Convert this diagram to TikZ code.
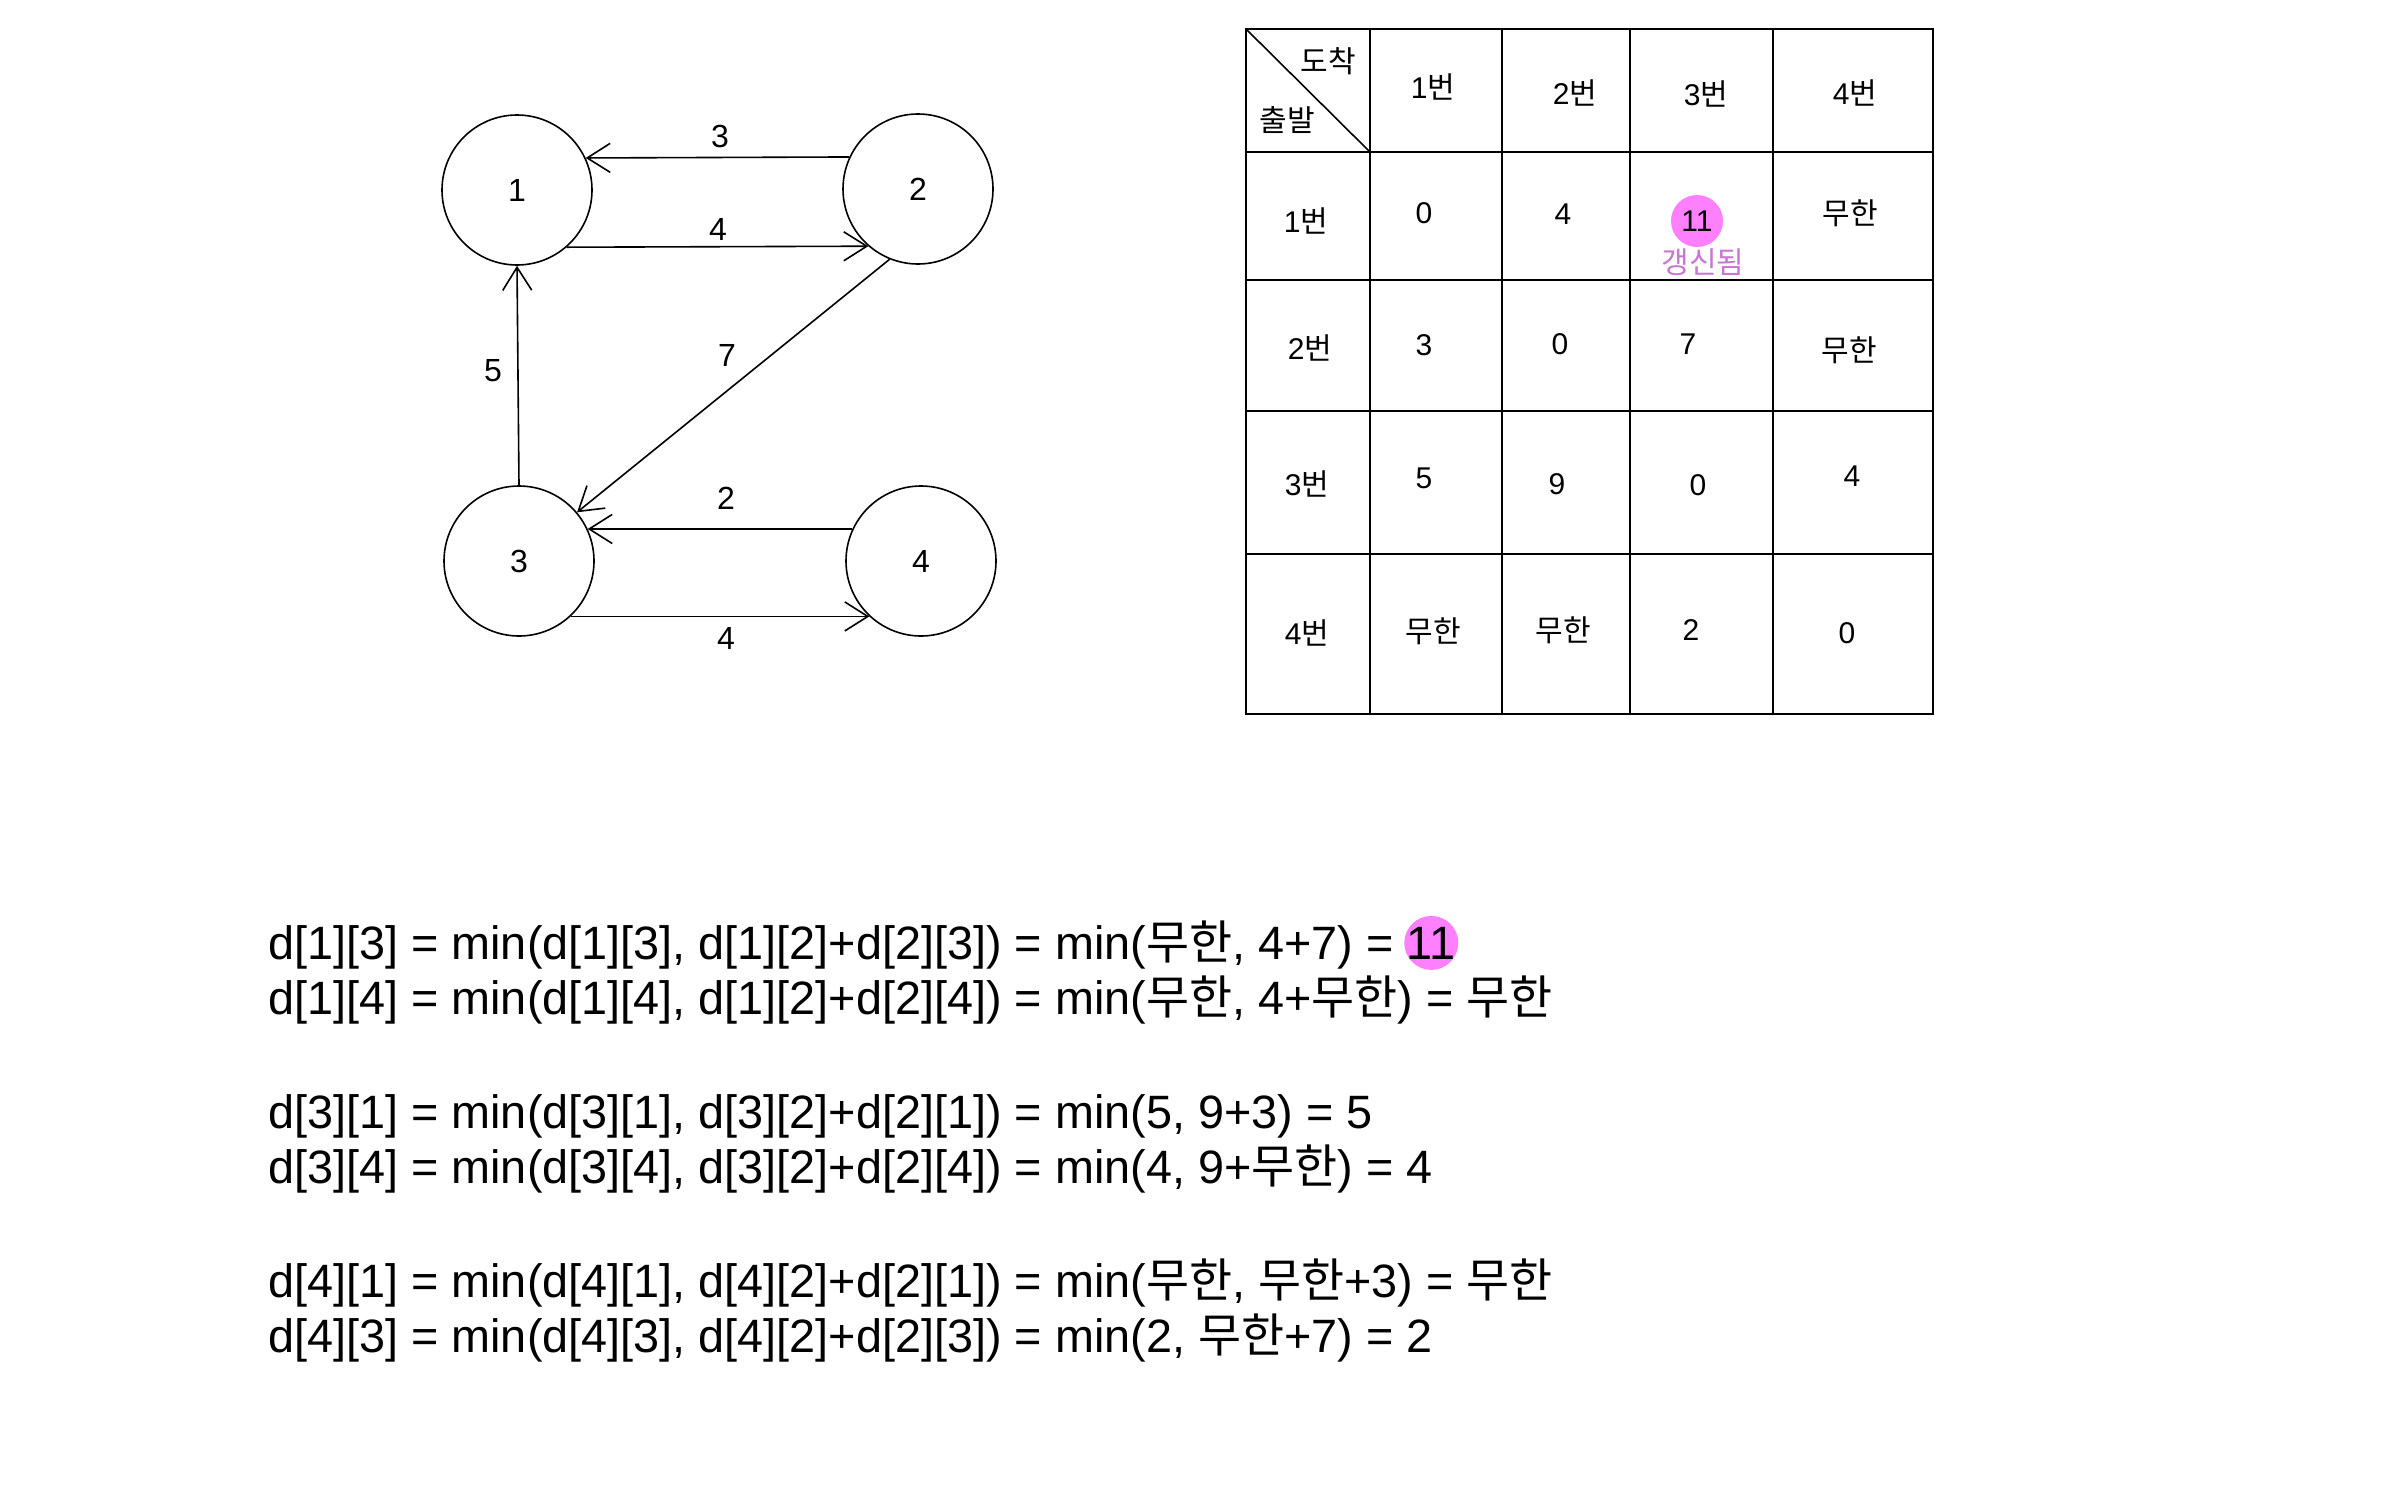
\documentclass[tikz,border=0pt]{standalone}
\usepackage{fontspec}
\setmainfont{Liberation Sans}
\newfontfamily\kr{Noto Sans CJK KR}
\usetikzlibrary{arrows.meta,backgrounds}
\newcommand\K[1]{{\kr #1}}
\definecolor{hl}{RGB}{255,128,255}
\definecolor{upd}{RGB}{200,118,212}
\begin{document}
\begin{tikzpicture}[x=1pt,y=-1pt,
  vtx/.style={circle, draw, line width=1.6pt, minimum size=150pt, inner sep=0pt, font=\fontsize{32}{38}\selectfont},
  edge/.style={line width=1.6pt, -{Straight Barb[length=23pt,width=29pt,line width=1.6pt]}},
  elab/.style={font=\fontsize{32}{38}\selectfont, inner sep=0pt},
  tline/.style={line width=2pt},
  cell/.style={font=\fontsize{30}{36}\selectfont, inner sep=0pt},
  eq/.style={font=\fontsize{46.8}{56}\selectfont, inner sep=0pt, anchor=base west}]
\useasboundingbox (0,0) rectangle (2386,1491);

% graph
\node[vtx] (c1) at (517,190) {1};
\node[vtx] (c2) at (918,189) {2};
\node[vtx] (c3) at (519,561) {3};
\node[vtx] (c4) at (921,561) {4};
\draw[edge] (c2.155) -- (c1.25);
\draw[edge] (c1.-49) -- (c2.-131);
\draw[edge] (c3.north) -- (c1.south);
\draw[edge] (c2.248) -- (c3.40);
\draw[edge] (c4.155) -- (c3.25);
\draw[edge] (c3.-47) -- (c4.-133);
\node[elab] (l21) at (720,136) {3};
\node[elab] (l12) at (718,229) {4};
\node[elab] (l31) at (493,371) {5};
\node[elab] (l23) at (727,355) {7};
\node[elab] (l43) at (726,498) {2};
\node[elab] (l34) at (726,638) {4};

% table
\draw[tline] (1246,29) rectangle (1933,714);
\foreach \x in {1370,1502,1630,1773} \draw[tline] (\x,29) -- (\x,714);
\foreach \y in {152,280,411,554} \draw[tline] (1246,\y) -- (1933,\y);
\draw[line width=1.6pt] (1246,29) -- (1370,152);
\node[cell] (hd) at (1328,61) {\K{도착}};
\node[cell] (hs) at (1287,120) {\K{출발}};
\node[cell] (h1) at (1433,87) {1\K{번}};
\node[cell] (h2) at (1575,93) {2\K{번}};
\node[cell] (h3) at (1706,94) {3\K{번}};
\node[cell] (h4) at (1855,93) {4\K{번}};
\node[cell] (r1) at (1306,221) {1\K{번}};
\node[cell] (r2) at (1310,348) {2\K{번}};
\node[cell] (r3) at (1307,484) {3\K{번}};
\node[cell] (r4) at (1307,633) {4\K{번}};
\node[cell] (t11) at (1424,213) {0};
\node[cell] (t12) at (1563,214) {4};
\node[cell, circle, fill=hl, minimum size=52pt] (t13) at (1697,221) {11};
\node[cell, text=upd] (upd) at (1703,262) {\K{갱신됨}};
\node[cell] (t14) at (1850,213) {\K{무한}};
\node[cell] (t21) at (1424,345) {3};
\node[cell] (t22) at (1560,344) {0};
\node[cell] (t23) at (1688,344) {7};
\node[cell] (t24) at (1849,350) {\K{무한}};
\node[cell] (t31) at (1424,478) {5};
\node[cell] (t32) at (1557,484) {9};
\node[cell] (t33) at (1698,485) {0};
\node[cell] (t34) at (1852,476) {4};
\node[cell] (t41) at (1433,631) {\K{무한}};
\node[cell] (t42) at (1563,630) {\K{무한}};
\node[cell] (t43) at (1691,630) {2};
\node[cell] (t44) at (1847,633) {0};

% equations
\node[eq] (e1) at (268,959) {d[1][3] = min(d[1][3], d[1][2]+d[2][3]) = min(\K{무한}, 4+7) =};
\node[eq] (e1b) at ([xshift=13pt]e1.base east) {11};
\begin{scope}[on background layer]
\fill[white] (0,0) rectangle (2386,1491);
\fill[hl] (e1b.center) circle (27);
\end{scope}
\node[eq] (e2) at (268,1014) {d[1][4] = min(d[1][4], d[1][2]+d[2][4]) = min(\K{무한}, 4+\K{무한}) = \K{무한}};
\node[eq] (e3) at (268,1128) {d[3][1] = min(d[3][1], d[3][2]+d[2][1]) = min(5, 9+3) = 5};
\node[eq] (e4) at (268,1183) {d[3][4] = min(d[3][4], d[3][2]+d[2][4]) = min(4, 9+\K{무한}) = 4};
\node[eq] (e5) at (268,1297) {d[4][1] = min(d[4][1], d[4][2]+d[2][1]) = min(\K{무한}, \K{무한}+3) = \K{무한}};
\node[eq] (e6) at (268,1352) {d[4][3] = min(d[4][3], d[4][2]+d[2][3]) = min(2, \K{무한}+7) = 2};
\end{tikzpicture}
\end{document}
